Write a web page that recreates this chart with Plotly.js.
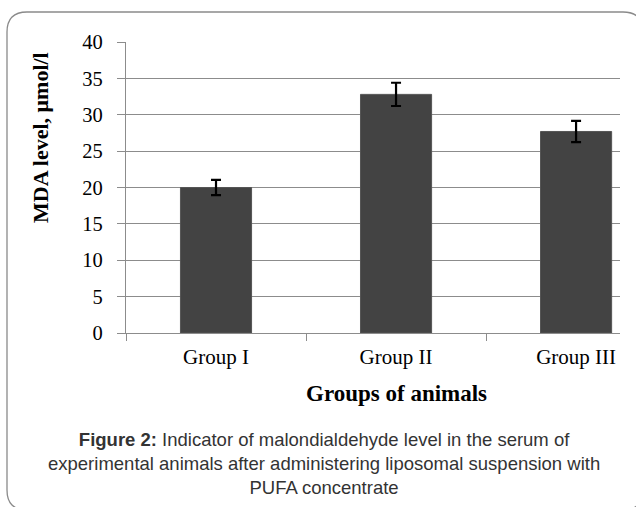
<!DOCTYPE html>
<html>
<head>
<meta charset="utf-8">
<script src="https://cdn.plot.ly/plotly-3.0.1.min.js"></script>
<style>html,body{margin:0;padding:0;background:#fff;}#chart{width:636px;height:507px;}</style>
</head>
<body>
<div id="chart"></div>
<script>
// Data
const categories = ["Group I", "Group II", "Group III"];
const mdaValues = [20.0, 32.8, 27.7];
const mdaErrors = [1.05, 1.6, 1.45];
const yTickValues = [0, 5, 10, 15, 20, 25, 30, 35, 40];

const W = 636, H = 507;
const M = {l: 126, r: 16, t: 42, b: 174};
const PW = W - M.l - M.r, PH = H - M.t - M.b;
function px(x) { return (x - M.l) / PW; }
function py(y) { return (H - M.b - y) / PH; }

const r = 20;
const x0 = 7, y0 = 12, x1 = 643, y1 = 510;
const framePath =
  `M ${px(x0)} ${py(y0 + r)} ` +
  `Q ${px(x0)} ${py(y0)} ${px(x0 + r)} ${py(y0)} ` +
  `L ${px(x1 - r)} ${py(y0)} ` +
  `Q ${px(x1)} ${py(y0)} ${px(x1)} ${py(y0 + r)} ` +
  `L ${px(x1)} ${py(y1 - r)} ` +
  `Q ${px(x1)} ${py(y1)} ${px(x1 - r)} ${py(y1)} ` +
  `L ${px(x0 + r)} ${py(y1)} ` +
  `Q ${px(x0)} ${py(y1)} ${px(x0)} ${py(y1 - r)} Z`;

const trace = {
  type: "bar",
  x: categories,
  y: mdaValues,
  width: 0.395,
  marker: {color: "#434343", line: {color: "#555555", width: 1}},
  error_y: {type: "data", array: mdaErrors, visible: true, color: "#000000", thickness: 2.2, width: 5},
  hoverinfo: "none"
};

const serif = "Liberation Serif, Times New Roman, serif";

const layout = {
  width: W, height: H,
  margin: M,
  paper_bgcolor: "#ffffff",
  plot_bgcolor: "#ffffff",
  showlegend: false,
  bargap: 0.6,
  xaxis: {
    type: "category",
    range: [-0.5, 2.244],
    tickson: "boundaries",
    ticks: "outside",
    ticklen: 7,
    tickcolor: "#8c8c8c",
    tickwidth: 1,
    showline: true,
    linecolor: "#8c8c8c",
    linewidth: 1.2,
    showgrid: false,
    zeroline: false,
    tickfont: {family: serif, size: 21, color: "#000000"},
    ticklabelstandoff: 5,
    fixedrange: true
  },
  yaxis: {
    range: [0, 40],
    tickvals: yTickValues,
    ticktext: yTickValues.map(String),
    ticks: "outside",
    ticklen: 8,
    tickcolor: "#8c8c8c",
    tickwidth: 1,
    showline: true,
    linecolor: "#8c8c8c",
    linewidth: 1.2,
    showgrid: true,
    gridcolor: "#8c8c8c",
    gridwidth: 1,
    zeroline: false,
    tickfont: {family: serif, size: 20.5, color: "#000000"},
    ticklabelstandoff: 10,
    fixedrange: true
  },
  shapes: [
    {type: "path", xref: "paper", yref: "paper", path: framePath,
     line: {color: "#8a8a8a", width: 1.3}, fillcolor: "rgba(0,0,0,0)", layer: "below"}
  ],
  annotations: [
    {text: "<b>Groups of animals</b>", xref: "paper", yref: "paper",
     x: px(396), y: py(393), xanchor: "center", yanchor: "middle", showarrow: false,
     font: {family: serif, size: 23, color: "#000000"}},
    {text: "<b>MDA level, μmol/l</b>", xref: "paper", yref: "paper",
     x: px(40), y: py(138), xanchor: "center", yanchor: "middle", showarrow: false, textangle: -90,
     font: {family: serif, size: 22, color: "#000000"}},
    {text: "<b>Figure 2:</b> Indicator of malondialdehyde level in the serum of<br>experimental animals after administering liposomal suspension with<br>PUFA concentrate",
     xref: "paper", yref: "paper", x: px(324), y: py(463), xanchor: "center", yanchor: "middle",
     align: "center", showarrow: false,
     font: {family: "Liberation Sans, Arial, sans-serif", size: 18.5, color: "#333333"}}
  ]
};

Plotly.newPlot("chart", [trace], layout, {displayModeBar: false, staticPlot: true});
</script>
</body>
</html>
